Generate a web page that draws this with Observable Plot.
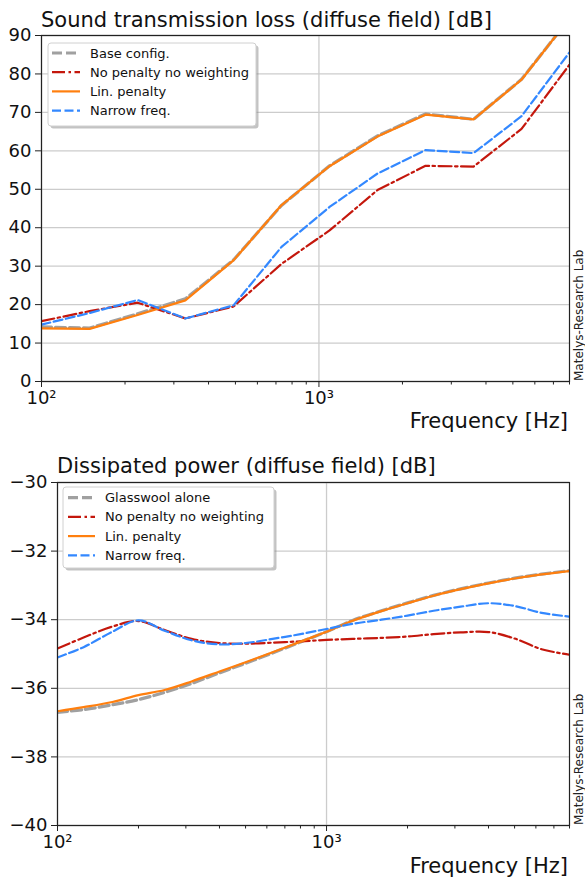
<!DOCTYPE html>
<html><head><meta charset="utf-8">
<script src="https://cdn.jsdelivr.net/npm/d3@7"></script>
<script src="https://cdn.jsdelivr.net/npm/@observablehq/plot@0.6"></script>
<style>
body{margin:0;background:#fff;}
#wrap{position:relative;width:585px;height:877px;font-family:"DejaVu Sans",sans-serif;}
#wrap svg{position:absolute;left:0;overflow:visible;}
</style></head><body><div id="wrap"></div>
<script>
// ---------- Data: top chart (sound transmission loss) ----------
const freqTL = [100, 149, 222, 330, 492, 733, 1092, 1626, 2422, 3607, 5372, 8000];
const tlBase   = [14.2, 13.9, 17.6, 21.5, 31.6, 45.8, 56.1, 63.9, 69.6, 68.2, 78.6, 94.4];
const tlNoPen  = [15.7, 18.3, 20.5, 16.4, 19.5, 30.6, 39.3, 49.8, 56.1, 55.9, 65.7, 82.4];
const tlLin    = [13.8, 13.7, 17.3, 21.1, 31.5, 45.9, 56.0, 63.7, 69.4, 68.2, 78.5, 94.4];
const tlNarrow = [14.8, 17.8, 21.2, 16.4, 19.8, 35.0, 45.4, 54.1, 60.2, 59.4, 69.0, 85.6];
const legendTop = ["Base config.", "No penalty no weighting", "Lin. penalty", "Narrow freq."];
const yTicksTop = [0, 10, 20, 30, 40, 50, 60, 70, 80, 90];

// ---------- Data: bottom chart (dissipated power) ----------
const freqDP = [100, 125, 160, 200, 250, 315, 400, 500, 630, 800, 1000, 1250, 1600, 2000, 2500, 3150, 4000, 5000, 6300, 8000];
const dpGlass  = [-36.70, -36.62, -36.48, -36.33, -36.12, -35.86, -35.55, -35.27, -34.97, -34.65, -34.35, -34.02, -33.74, -33.51, -33.29, -33.10, -32.93, -32.79, -32.67, -32.57];
const dpNoPen  = [-34.84, -34.52, -34.20, -34.04, -34.30, -34.56, -34.68, -34.70, -34.67, -34.63, -34.59, -34.56, -34.53, -34.49, -34.42, -34.37, -34.36, -34.55, -34.86, -35.02];
const dpLin    = [-36.67, -36.55, -36.40, -36.20, -36.05, -35.80, -35.51, -35.24, -34.95, -34.64, -34.35, -34.03, -33.75, -33.52, -33.30, -33.11, -32.94, -32.80, -32.68, -32.58];
const dpNarrow = [-35.10, -34.80, -34.35, -34.02, -34.32, -34.60, -34.72, -34.68, -34.56, -34.42, -34.27, -34.12, -34.00, -33.88, -33.74, -33.62, -33.52, -33.60, -33.80, -33.91];
const legendBottom = ["Glasswool alone", "No penalty no weighting", "Lin. penalty", "Narrow freq."];
const yTicksBottom = [-40, -38, -36, -34, -32, -30];

// ---------- Shared axis tick values / labels ----------
const xMajorTicks = [100, 1000];
const xMajorLabels = ["10²", "10³"];
const xMinorTicks = [200, 300, 400, 500, 600, 700, 800, 900, 2000, 3000, 4000, 5000, 6000, 7000, 8000];
const xLabel = "Frequency [Hz]";
const watermark = "Matelys-Research Lab";
const titleTop = "Sound transmission loss (diffuse field) [dB]";
const titleBottom = "Dissipated power (diffuse field) [dB]";

// ---------- Styles ----------
const styles = [
  {stroke: "#a0a0a0", strokeWidth: 3.2, strokeDasharray: "10,4"},
  {stroke: "#c4170c", strokeWidth: 2.2, strokeDasharray: "13,3.5,2.5,3.5"},
  {stroke: "#ff7f0e", strokeWidth: 2.2},
  {stroke: "#3388ff", strokeWidth: 2.2, strokeDasharray: "9,3.5"}
];
const FONT = "DejaVu Sans";
const minusFmt = d => (d < 0 ? "\u2212" + Math.abs(d) : String(d));

function makeChart(cfg) {
  const seriesRows = cfg.series.map(vals => cfg.freq.map((f, i) => ({f, v: vals[i]})));
  const marks = [
    Plot.gridY({ticks: cfg.yTicks, stroke: "#cccccc", strokeOpacity: 1, strokeWidth: 1.3}),
    Plot.gridX({ticks: xMajorTicks, stroke: "#cccccc", strokeOpacity: 1, strokeWidth: 1.3}),
    ...seriesRows.map((rows, k) => Plot.line(rows, {x: "f", y: "v", curve: cfg.curve, clip: true, ...styles[k]})),
    Plot.frame({stroke: "#222", strokeWidth: 1.2}),
    Plot.axisY({ticks: cfg.yTicks, tickSize: 6, tickPadding: 4, fontSize: 18, label: null, tickFormat: minusFmt, stroke: "#222"}),
    Plot.axisX({ticks: xMajorTicks, tickSize: 6, tickPadding: 4, fontSize: 18, label: null,
                tickFormat: d => xMajorLabels[xMajorTicks.indexOf(d)], stroke: "#222"}),
    Plot.axisX({ticks: xMinorTicks, tickSize: 3.5, tickFormat: () => "", label: null, stroke: "#222"})
  ];
  const svg = Plot.plot({
    width: 585, height: cfg.height,
    marginTop: cfg.mt, marginBottom: cfg.mb, marginLeft: cfg.ml, marginRight: cfg.mr,
    style: {fontFamily: FONT, fontSize: "18px", color: "#111", background: "white"},
    x: {type: "log", domain: [100, 8000], axis: null},
    y: {domain: [cfg.yTicks[0], cfg.yTicks[cfg.yTicks.length - 1]], axis: null},
    marks
  });
  svg.style.top = cfg.top + "px";
  const s = d3.select(svg);
  const plotBottom = cfg.height - cfg.mb;
  const txt = () => s.append("text").attr("font-family", FONT).attr("fill", "#111");
  // title
  txt().attr("x", cfg.ml).attr("y", cfg.titleY).attr("text-anchor", "start")
    .attr("font-size", 21).text(cfg.title);
  // x label
  txt().attr("x", 568).attr("y", cfg.xLabelY).attr("text-anchor", "end")
    .attr("font-size", 21).text(xLabel);
  // watermark
  txt().attr("transform", `translate(583,${plotBottom}) rotate(-90)`).attr("text-anchor", "start")
    .attr("font-size", 12).attr("fill", "#222").text(watermark);
  // legend
  const L = cfg.legend;
  const g = s.append("g");
  g.append("rect").attr("x", L.x + 2.5).attr("y", L.y + 2.5).attr("width", L.w).attr("height", L.h)
    .attr("rx", 3).attr("fill", "#888").attr("fill-opacity", 0.5);
  g.append("rect").attr("x", L.x).attr("y", L.y).attr("width", L.w).attr("height", L.h)
    .attr("rx", 3).attr("fill", "white").attr("stroke", "#d0d0d0").attr("stroke-width", 1);
  cfg.labels.forEach((lab, k) => {
    const yy = L.row0 + k * L.dy;
    const st = styles[k];
    g.append("line").attr("x1", L.lx0).attr("x2", L.lx1).attr("y1", yy).attr("y2", yy)
      .attr("stroke", st.stroke).attr("stroke-width", st.strokeWidth)
      .attr("stroke-dasharray", st.strokeDasharray || null);
    g.append("text").attr("x", L.tx).attr("y", yy).attr("dy", "0.35em").attr("text-anchor", "start")
      .attr("font-family", FONT).attr("font-size", 13).attr("fill", "#111").text(lab);
  });
  document.getElementById("wrap").appendChild(svg);
}

makeChart({
  top: 0, height: 440, mt: 35, mb: 59, ml: 41, mr: 16,
  freq: freqTL, series: [tlBase, tlNoPen, tlLin, tlNarrow], curve: "linear",
  yTicks: yTicksTop, title: titleTop, titleY: 27, xLabelY: 428, labels: legendTop,
  legend: {x: 48, y: 43, w: 208, h: 83, row0: 53, dy: 19.2, lx0: 52, lx1: 80, tx: 90}
});
makeChart({
  top: 440, height: 437, mt: 42, mb: 52, ml: 57, mr: 16,
  freq: freqDP, series: [dpGlass, dpNoPen, dpLin, dpNarrow], curve: "catmull-rom",
  yTicks: yTicksBottom, title: titleBottom, titleY: 33, xLabelY: 433, labels: legendBottom,
  legend: {x: 63, y: 47, w: 211, h: 81, row0: 57.7, dy: 19.2, lx0: 68, lx1: 95, tx: 105}
});
</script></body></html>
